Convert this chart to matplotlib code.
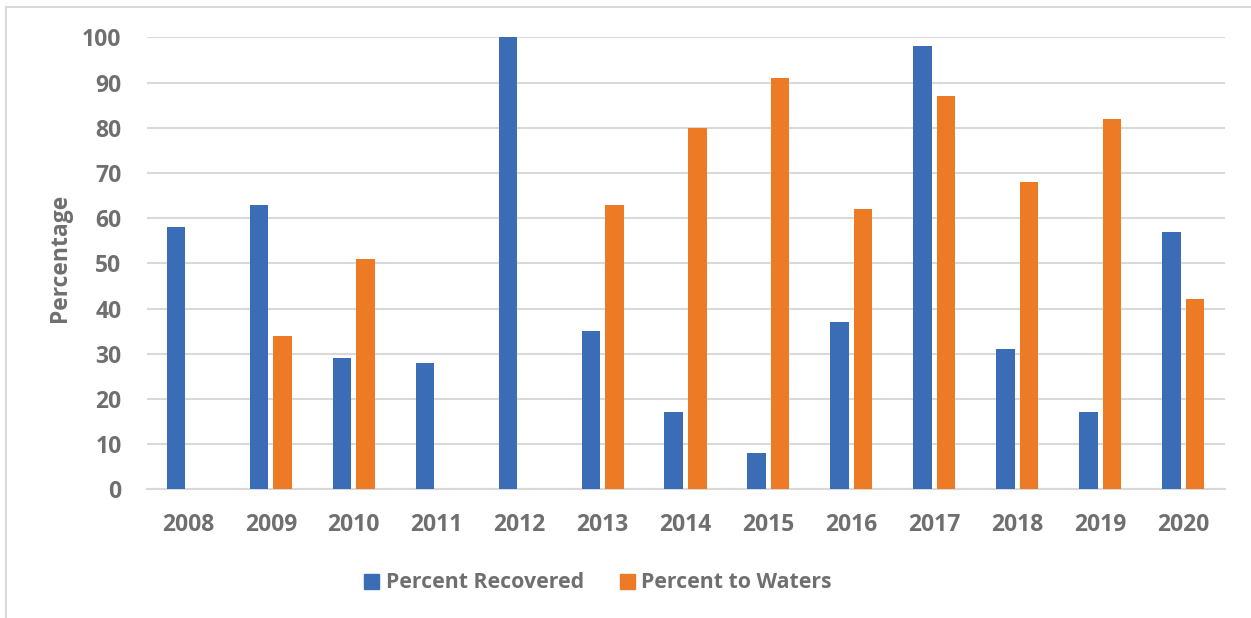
import matplotlib
matplotlib.use("Agg")
import matplotlib.pyplot as plt
from matplotlib.patches import Patch, Rectangle
import numpy as np

years = ["2008", "2009", "2010", "2011", "2012", "2013", "2014",
         "2015", "2016", "2017", "2018", "2019", "2020"]
recovered = [58, 63, 29, 28, 100, 35, 17, 8, 37, 98, 31, 17, 57]
to_waters = [0, 34, 51, 0, 0, 63, 80, 91, 62, 87, 68, 82, 42]
yticks = [0, 10, 20, 30, 40, 50, 60, 70, 80, 90, 100]

BLUE = "#3b6db6"
ORANGE = "#ed7b25"
TEXT = "#6f6f6f"
GRID = "#d9d9d9"
FS = 16.5

plt.rcParams["font.family"] = ["Open Sans", "DejaVu Sans"]
plt.rcParams["font.weight"] = "bold"

fig = plt.figure(figsize=(12.51, 6.18), dpi=100)
ax = fig.add_axes([146.5 / 1251, 1 - 489.3 / 618, 1078 / 1251, 452 / 618])

# light chart border (left and top only visible)
fig.patches.append(Rectangle((5.5 / 1251, -0.1), 1.2, (1 - 7 / 618) + 0.1,
                             transform=fig.transFigure, fill=False,
                             edgecolor="#d9d9d9", linewidth=1.5))

x = np.arange(len(years))
w = 0.224
off = 0.142
ax.bar(x - off, recovered, w, color=BLUE, label="Percent Recovered", zorder=3)
ax.bar(x + off, to_waters, w, color=ORANGE, label="Percent to Waters", zorder=3)

ax.set_xlim(-0.5, len(years) - 0.5)
ax.set_ylim(0, 100)
ax.set_yticks(yticks)
ax.set_xticks(x)
ax.set_xticklabels(years)
ax.grid(axis="y", color=GRID, linewidth=1.5, zorder=0)
ax.set_axisbelow(True)
for s in ["top", "right", "left"]:
    ax.spines[s].set_visible(False)
ax.spines["bottom"].set_color(GRID)
ax.spines["bottom"].set_linewidth(1.5)
ax.tick_params(axis="both", length=0, labelsize=FS, labelcolor=TEXT)
ax.tick_params(axis="y", pad=18)
ax.tick_params(axis="x", pad=17)
for lab in ax.get_xticklabels() + ax.get_yticklabels():
    lab.set_fontweight("bold")

fig.text(60 / 1251, 1 - 258 / 618, "Percentage", rotation=90, ha="center",
         va="center", fontsize=FS, fontweight="bold", color=TEXT)

handles = [Patch(color=BLUE, label="Percent Recovered"),
           Patch(color=ORANGE, label="Percent to Waters")]
leg = fig.legend(handles=handles, loc="center", ncol=2,
                 bbox_to_anchor=(598 / 1251, 1 - 583 / 618), frameon=False,
                 fontsize=15.3, handlelength=0.7, handleheight=0.7,
                 handletextpad=0.3, columnspacing=1.7)
for t in leg.get_texts():
    t.set_color(TEXT)
    t.set_fontweight("bold")

fig.savefig("out.png", dpi=100)
